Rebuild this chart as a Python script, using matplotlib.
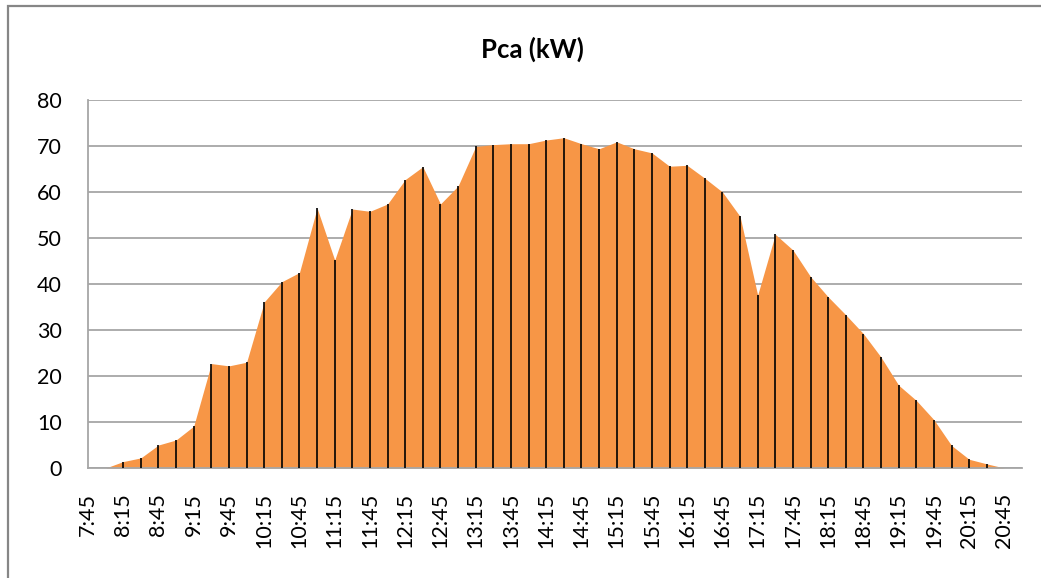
import matplotlib
matplotlib.use("Agg")
import matplotlib.pyplot as plt
from matplotlib.patches import Rectangle

# 15-minute samples, 7:45 .. 21:00
times = ["7:45", "8:00", "8:15", "8:30", "8:45", "9:00", "9:15", "9:30", "9:45",
         "10:00", "10:15", "10:30", "10:45", "11:00", "11:15", "11:30", "11:45",
         "12:00", "12:15", "12:30", "12:45", "13:00", "13:15", "13:30", "13:45",
         "14:00", "14:15", "14:30", "14:45", "15:00", "15:15", "15:30", "15:45",
         "16:00", "16:15", "16:30", "16:45", "17:00", "17:15", "17:30", "17:45",
         "18:00", "18:15", "18:30", "18:45", "19:00", "19:15", "19:30", "19:45",
         "20:00", "20:15", "20:30", "20:45", "21:00"]
pca_kw = [0.0, 0.0, 1.4, 2.2, 5.0, 6.1, 9.1, 22.7, 22.2,
          23.0, 36.1, 40.5, 42.5, 56.5, 45.2, 56.3, 55.8,
          57.4, 62.7, 65.5, 57.4, 61.3, 69.9, 70.3, 70.5,
          70.5, 71.3, 71.8, 70.5, 69.4, 70.9, 69.4, 68.5,
          65.6, 65.8, 63.0, 60.0, 54.7, 37.6, 50.8, 47.4,
          41.6, 37.2, 33.3, 29.2, 24.1, 18.0, 14.7, 10.5,
          4.9, 1.9, 0.9, 0.0, 0.0]

plt.rcParams["font.family"] = ["Lato", "DejaVu Sans"]

fig = plt.figure(figsize=(10.41, 5.78), dpi=100)
ax = fig.add_axes([88 / 1041, 1 - 468 / 578, (1022 - 88) / 1041, (468 - 100) / 578])

x = list(range(len(times)))
ax.fill_between(x, pca_kw, 0, color="#F79646", lw=0, zorder=2)
xs = [i for i, v in zip(x, pca_kw) if v > 0]
ys = [v for v in pca_kw if v > 0]
ax.vlines(xs, 0, ys, color="black", lw=1.2, zorder=3)

ax.set_xlim(0, len(times) - 1)
ax.set_ylim(0, 80)
ax.set_yticks(range(0, 81, 10))
ax.set_xticks(x[::2])
ax.set_xticklabels(times[::2], rotation=90, va="top", ha="center")
ax.tick_params(axis="both", length=0, labelsize=15.5, colors="black")
ax.tick_params(axis="y", pad=19)
ax.tick_params(axis="x", pad=18)

ax.grid(axis="y", color="#a6a6a6", lw=1.3, zorder=1)
ax.set_axisbelow(True)
for s in ("top", "right"):
    ax.spines[s].set_visible(False)
for s in ("left", "bottom"):
    ax.spines[s].set_color("#a6a6a6")
    ax.spines[s].set_linewidth(1.3)

fig.text(532 / 1041, 1 - 49 / 578, "Pca (kW)", ha="center", va="center",
         fontsize=18.5, fontweight="bold")

# chart-area border (cropped on the right and bottom in the original)
fig.patches.append(Rectangle((7.5 / 1041, -0.05), 1.1, 1.05 - 6.5 / 578,
                             transform=fig.transFigure, fill=False,
                             edgecolor="#868686", lw=1.6))

fig.savefig("out.png", dpi=100)
